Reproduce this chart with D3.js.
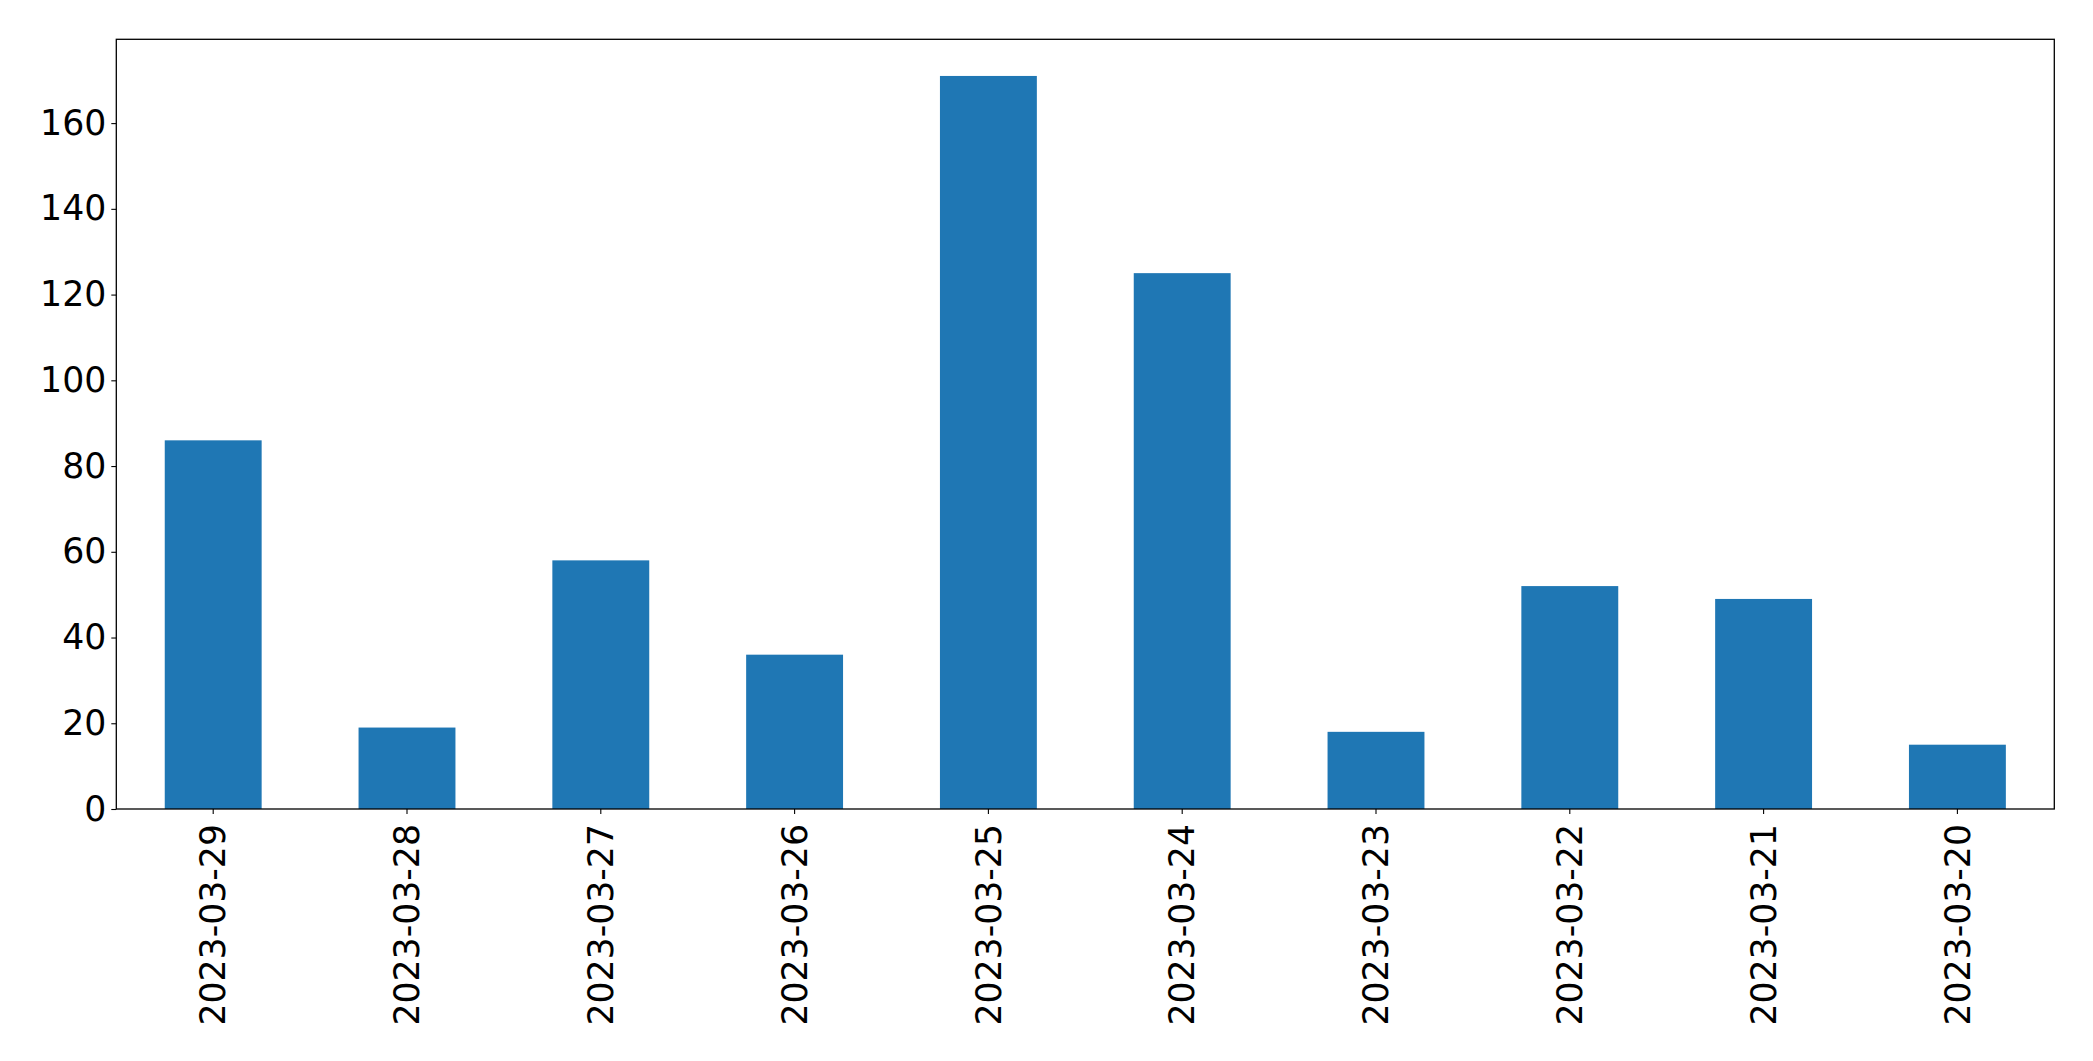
<!DOCTYPE html>
<html>
<head>
<meta charset="utf-8">
<script src="https://cdn.jsdelivr.net/npm/d3@7"></script>
<style>
  html, body { margin: 0; padding: 0; background: #fff; }
  svg { display: block; }
</style>
</head>
<body>
<svg id="chart" width="2093" height="1061"></svg>
<script>
const categories = ["2023-03-29","2023-03-28","2023-03-27","2023-03-26","2023-03-25","2023-03-24","2023-03-23","2023-03-22","2023-03-21","2023-03-20"];
const values = [86, 19, 58, 36, 171, 125, 18, 52, 49, 15];
const yTicks = [0, 20, 40, 60, 80, 100, 120, 140, 160];

const W = 2093, H = 1061;
const margin = {left: 116.3, right: W - 2054.3, top: 39.3, bottom: H - 809};
const iw = W - margin.left - margin.right;
const ih = H - margin.top - margin.bottom;
const svg = d3.select("#chart");
const g = svg.append("g").attr("transform", `translate(${margin.left},${margin.top})`);

const x = d3.scaleBand().domain(categories).range([0, iw]).paddingInner(0.5).paddingOuter(0.25);
const y = d3.scaleLinear().domain([0, d3.max(values) * 1.05]).range([ih, 0]);

g.selectAll("rect.bar").data(values).join("rect")
  .attr("class", "bar")
  .attr("x", (d, i) => x(categories[i]))
  .attr("width", x.bandwidth())
  .attr("y", d => y(d))
  .attr("height", d => ih - y(d))
  .attr("fill", "#1f77b4");

const font = "'DejaVu Sans', sans-serif";
const fs = 34.7;

const yAxis = g.append("g").call(d3.axisLeft(y).tickValues(yTicks).tickSize(5).tickPadding(5).tickFormat(d3.format("d")));
yAxis.select(".domain").remove();
yAxis.selectAll("text").attr("font-family", font).attr("font-size", fs).attr("fill", "#000");
yAxis.selectAll("line").attr("stroke", "#000").attr("stroke-width", 1.1);

const xAxis = g.append("g").attr("transform", `translate(0,${ih})`).call(d3.axisBottom(x).tickSize(5).tickPadding(0));
xAxis.select(".domain").remove();
xAxis.selectAll("line").attr("stroke", "#000").attr("stroke-width", 1.1);
xAxis.selectAll("text")
  .attr("font-family", font).attr("font-size", fs).attr("fill", "#000")
  .attr("transform", "rotate(-90)")
  .attr("x", -15).attr("y", 0).attr("dy", "0.35em")
  .attr("text-anchor", "end");

g.append("rect").attr("x", 0).attr("y", 0).attr("width", iw).attr("height", ih)
  .attr("fill", "none").attr("stroke", "#000").attr("stroke-width", 1.3);
</script>
</body>
</html>
